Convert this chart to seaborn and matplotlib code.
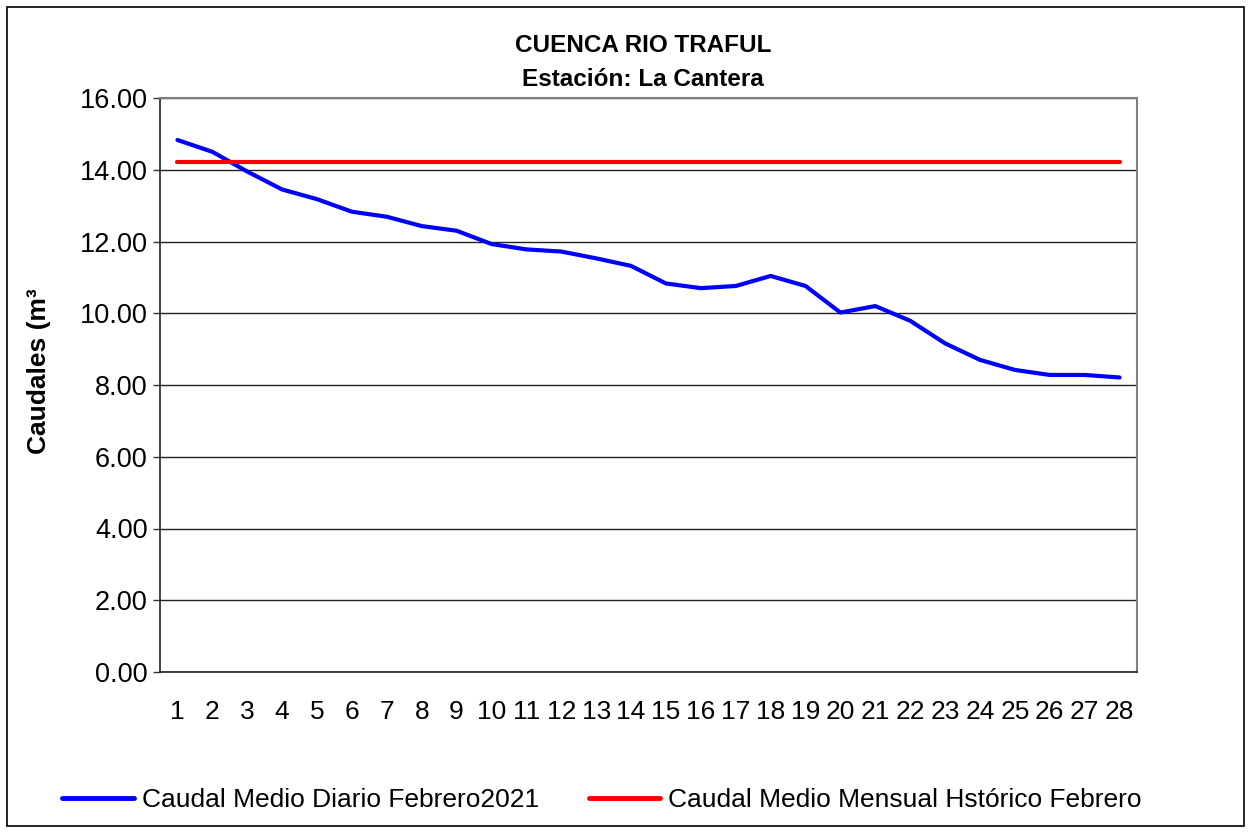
import numpy as np
import pandas as pd
import matplotlib
matplotlib.use("Agg")
import matplotlib.pyplot as plt
import seaborn as sns

# ── Data ───────────────────────────────────────────────────────────────────
dias = list(range(1, 29))
caudal_diario = [14.83, 14.50, 13.95, 13.45, 13.18, 12.83, 12.69, 12.43, 12.30, 11.93,
                 11.78, 11.72, 11.53, 11.32, 10.83, 10.70, 10.76, 11.04, 10.76, 10.02,
                 10.20, 9.79, 9.16, 8.70, 8.42, 8.28, 8.28, 8.21]
caudal_historico = 14.22
y_ticks = [0, 2, 4, 6, 8, 10, 12, 14, 16]

LBL_DIARIO = "Caudal Medio Diario Febrero2021"
LBL_HIST   = "Caudal Medio Mensual Hstórico Febrero"

df = pd.DataFrame({
    "dia": dias * 2,
    "caudal": caudal_diario + [caudal_historico] * len(dias),
    "serie": [LBL_DIARIO] * len(dias) + [LBL_HIST] * len(dias),
})

sns.set_style("white")
plt.rcParams["font.family"] = ["Liberation Sans", "DejaVu Sans"]
plt.rcParams["text.color"] = "black"
plt.rcParams["axes.labelcolor"] = "black"
plt.rcParams["xtick.color"] = "black"
plt.rcParams["ytick.color"] = "black"

fig = plt.figure(figsize=(12.51, 8.33), dpi=100)
fig.patch.set_facecolor("white")
ax = fig.add_axes([160/1251, 1-672/833, 977/1251, 574/833])

sns.lineplot(data=df, x="dia", y="caudal", hue="serie",
             palette={LBL_DIARIO: "#0000ff", LBL_HIST: "#ff0000"},
             linewidth=3.0, ax=ax, legend=False)

ax.set_xlim(0.5, 28.5)
ax.set_ylim(0, 16)
ax.set_yticks(y_ticks)
ax.set_yticklabels([f"{v:.2f}" for v in y_ticks], fontsize=19.5)
ax.set_xticks(dias)
ax.set_xticklabels([str(d) for d in dias], fontsize=19)
ax.set_xticks(np.arange(0.5, 29, 1), minor=True)
ax.tick_params(axis="x", which="major", length=0, pad=20)
ax.tick_params(axis="x", which="minor", length=5, width=1, color="#333333", direction="out")
ax.tick_params(axis="y", length=5, width=1, color="#333333", direction="out", left=True, pad=4)
ax.yaxis.grid(True, color="#222222", linewidth=1)
ax.set_axisbelow(True)
for side in ["left", "bottom"]:
    ax.spines[side].set_color("#222222")
    ax.spines[side].set_linewidth(1.2)
ax.spines["right"].set_color("#808080")
ax.spines["top"].set_color("#808080")
ax.spines["right"].set_linewidth(1.5)
ax.spines["top"].set_linewidth(1.5)
ax.set_xlabel("")
ax.set_ylabel("Caudales (m³", fontsize=19, fontweight="bold")
ax.yaxis.set_label_coords(-0.112, 0.524)

fig.text(643/1251, 1-45/833, "CUENCA RIO TRAFUL", ha="center", va="center",
         fontsize=17.5, fontweight="bold")
fig.text(643/1251, 1-80/833, "Estación: La Cantera", ha="center", va="center",
         fontsize=17.5, fontweight="bold")

handles = [plt.Line2D([], [], color="#0000ff", linewidth=3.5, solid_capstyle="round"),
           plt.Line2D([], [], color="#ff0000", linewidth=3.5, solid_capstyle="round")]
fig.legend(handles, [LBL_DIARIO, LBL_HIST], loc="center", ncol=2,
           bbox_to_anchor=(602/1251, 1-800/833), frameon=False, fontsize=19,
           handlelength=2.7, handletextpad=0.3, columnspacing=1.9)

fig.add_artist(plt.Rectangle((7/1251, 7/833), 1237/1251, 819/833, transform=fig.transFigure,
                             fill=False, edgecolor="black", linewidth=1.2))

fig.savefig("out.png", dpi=100, facecolor="white")
